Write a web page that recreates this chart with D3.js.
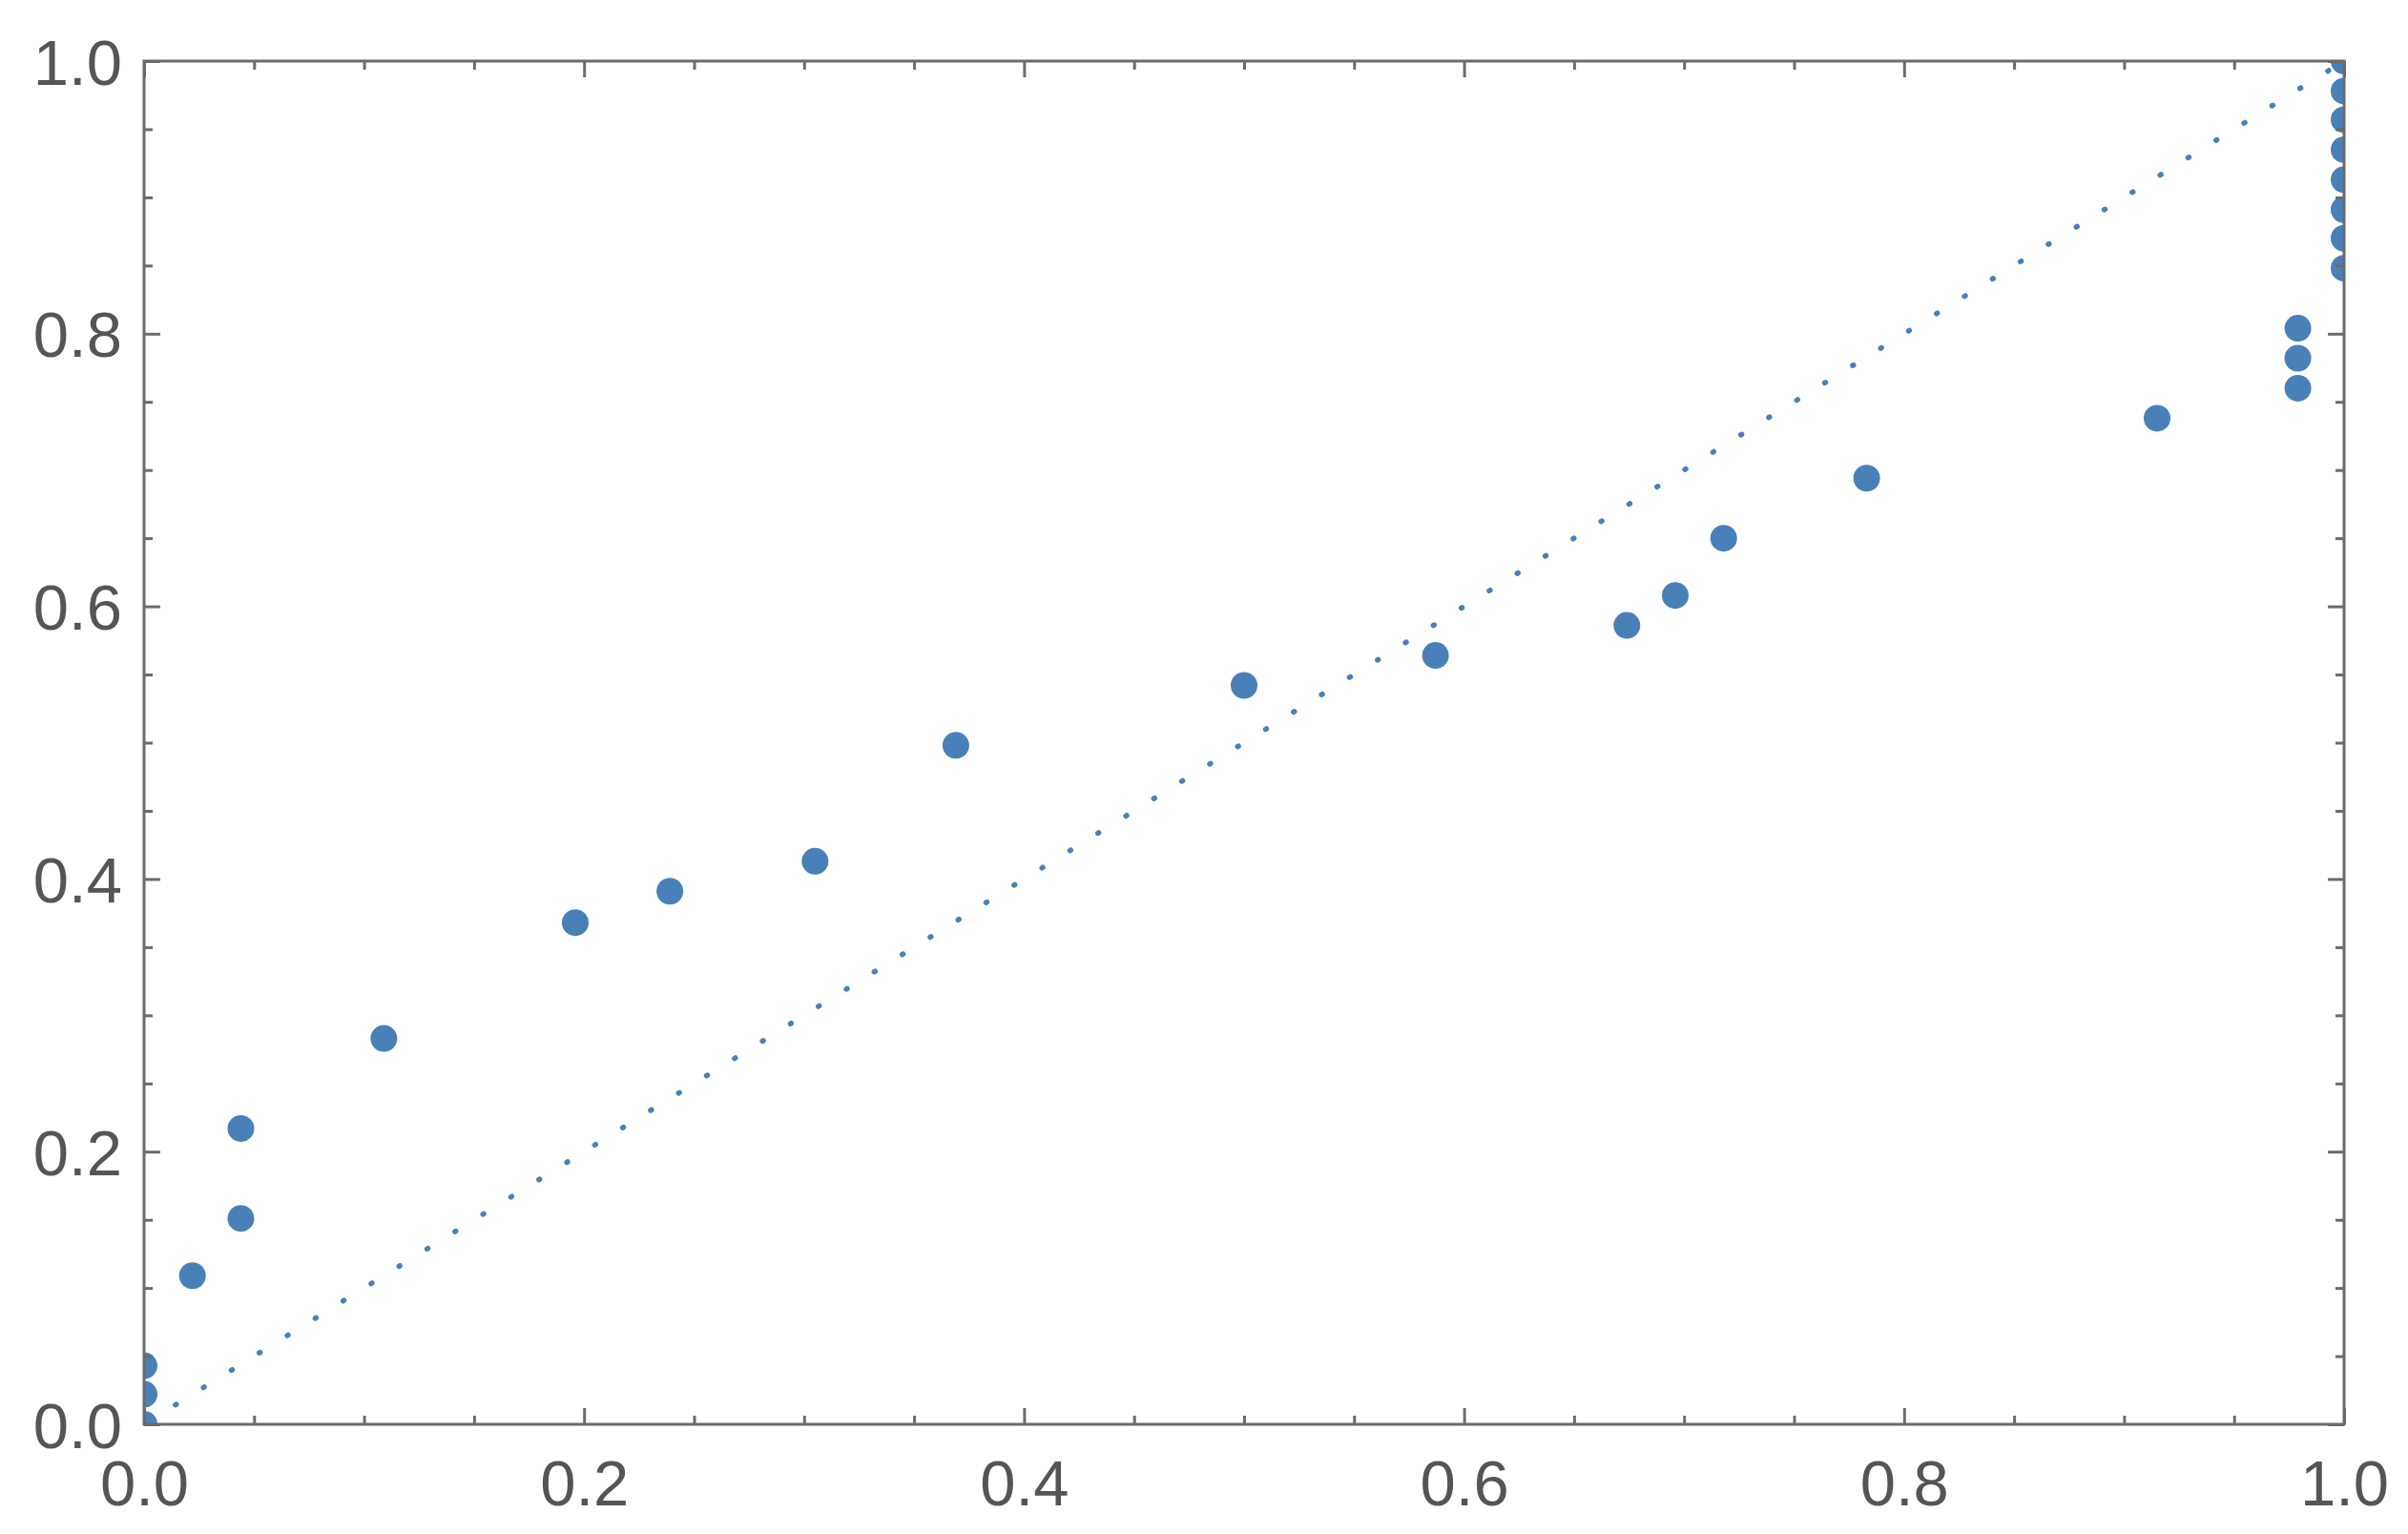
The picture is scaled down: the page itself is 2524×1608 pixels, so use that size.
<!DOCTYPE html>
<html>
<head>
<meta charset="utf-8">
<script src="https://cdn.jsdelivr.net/npm/d3@7"></script>
<style>
  html, body { margin: 0; padding: 0; background: #ffffff; }
  svg { display: block; }
</style>
</head>
<body>
<svg id="chart" width="2524" height="1608"></svg>
<script>
// ---- data ----
const xValues = [0, 0, 0, 0.022, 0.044, 0.044, 0.109, 0.196, 0.239, 0.305, 0.369, 0.500, 0.587,
                 0.674, 0.696, 0.718, 0.783, 0.915, 0.979, 0.979, 0.979,
                 1, 1, 1, 1, 1, 1, 1, 1];
const yValues = [0, 0.022, 0.043, 0.109, 0.151, 0.217, 0.283, 0.368, 0.391, 0.413, 0.498, 0.542, 0.564,
                 0.586, 0.608, 0.650, 0.694, 0.738, 0.760, 0.782, 0.804,
                 0.848, 0.870, 0.891, 0.913, 0.935, 0.957, 0.978, 1.0];
const diagonal = [[0, 0], [1, 1]];
const majorTicks = [0, 0.2, 0.4, 0.6, 0.8, 1.0];
const minorTicks = d3.range(0, 21).map(i => i / 20).filter(v => !majorTicks.some(m => Math.abs(m - v) < 1e-9));

// ---- layout ----
const padL = 151, padR = 2457, padT = 64, padB = 1493;
const frameColor = "#6b6b6b";
const textColor = "#555555";
const dotColor = "#4a80b8";
const fontSize = 67;

const svg = d3.select("#chart");
const x = d3.scaleLinear().domain([0, 1]).range([padL, padR]);
const y = d3.scaleLinear().domain([0, 1]).range([padB, padT]);

svg.append("defs").append("clipPath").attr("id", "plotClip")
  .append("rect").attr("x", padL).attr("y", padT)
  .attr("width", padR - padL).attr("height", padB - padT);

const plot = svg.append("g").attr("clip-path", "url(#plotClip)");

// dotted reference diagonal
plot.append("path")
  .datum(diagonal)
  .attr("d", d3.line().x(d => x(d[0])).y(d => y(d[1])))
  .attr("fill", "none")
  .attr("stroke", dotColor)
  .attr("stroke-width", 5.5)
  .attr("stroke-linecap", "round")
  .attr("stroke-dasharray", "1 33.47")
  .attr("stroke-dashoffset", -4.2);

// points
plot.selectAll("circle.pt")
  .data(xValues.map((v, i) => [v, yValues[i]]))
  .join("circle")
  .attr("class", "pt")
  .attr("cx", d => x(d[0]))
  .attr("cy", d => y(d[1]))
  .attr("r", 14)
  .attr("fill", dotColor);

// ---- axes (ticks on all four sides, pointing inward) ----
function styleAxis(g) {
  g.select(".domain").remove();
  g.selectAll(".tick line").attr("stroke", frameColor).attr("stroke-width", 3);
}

// bottom
svg.append("g").attr("transform", `translate(0,${padB})`)
  .call(d3.axisBottom(x).tickValues(minorTicks).tickSize(-9).tickFormat(""))
  .call(styleAxis);
const bx = svg.append("g").attr("transform", `translate(0,${padB})`)
  .call(d3.axisBottom(x).tickValues(majorTicks).tickSize(-17).tickPadding(0).tickFormat(d3.format(".1f")))
  .call(styleAxis);
bx.selectAll(".tick text").attr("y", 85).attr("dy", 0)
  .attr("fill", textColor).attr("font-size", fontSize)
  .attr("font-family", "'Liberation Sans', Arial, sans-serif");

// top
svg.append("g").attr("transform", `translate(0,${padT})`)
  .call(d3.axisTop(x).tickValues(minorTicks).tickSize(-9).tickFormat(""))
  .call(styleAxis);
svg.append("g").attr("transform", `translate(0,${padT})`)
  .call(d3.axisTop(x).tickValues(majorTicks).tickSize(-17).tickFormat(""))
  .call(styleAxis);

// left
svg.append("g").attr("transform", `translate(${padL},0)`)
  .call(d3.axisLeft(y).tickValues(minorTicks).tickSize(-9).tickFormat(""))
  .call(styleAxis);
const ly = svg.append("g").attr("transform", `translate(${padL},0)`)
  .call(d3.axisLeft(y).tickValues(majorTicks).tickSize(-17).tickPadding(0).tickFormat(d3.format(".1f")))
  .call(styleAxis);
ly.selectAll(".tick text").attr("x", -23).attr("dy", 0).attr("y", 24)
  .attr("text-anchor", "end")
  .attr("fill", textColor).attr("font-size", fontSize)
  .attr("font-family", "'Liberation Sans', Arial, sans-serif");

// right
svg.append("g").attr("transform", `translate(${padR},0)`)
  .call(d3.axisRight(y).tickValues(minorTicks).tickSize(-9).tickFormat(""))
  .call(styleAxis);
svg.append("g").attr("transform", `translate(${padR},0)`)
  .call(d3.axisRight(y).tickValues(majorTicks).tickSize(-17).tickFormat(""))
  .call(styleAxis);

// frame
svg.append("rect")
  .attr("x", padL).attr("y", padT)
  .attr("width", padR - padL).attr("height", padB - padT)
  .attr("fill", "none").attr("stroke", frameColor).attr("stroke-width", 3);
</script>
</body>
</html>
